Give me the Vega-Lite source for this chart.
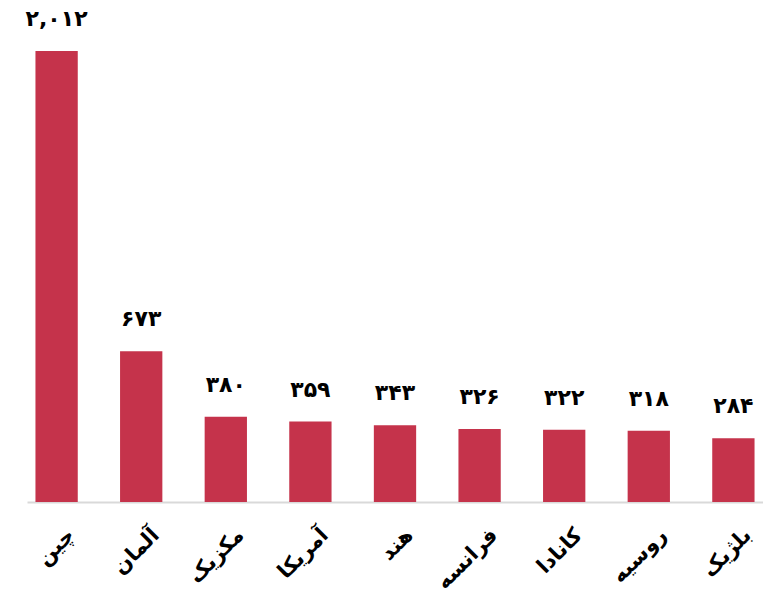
{
  "$schema": "https://vega.github.io/schema/vega-lite/v6.json",
  "width": 736,
  "height": 502,
  "autosize": {"type": "none"},
  "padding": {"left": 27, "top": 0, "right": 0, "bottom": 94},
  "config": {
    "view": {"stroke": null},
    "font": "DejaVu Sans",
    "locale": {
      "number": {
        "decimal": ".",
        "thousands": ",",
        "grouping": [3],
        "currency": ["", ""],
        "numerals": ["۰", "۱", "۲", "۳", "۴", "۵", "۶", "۷", "۸", "۹"]
      }
    }
  },
  "data": {
    "values": [
      {"country": "چین", "value": 2012},
      {"country": "آلمان", "value": 673},
      {"country": "مکزیک", "value": 380},
      {"country": "آمریکا", "value": 359},
      {"country": "هند", "value": 343},
      {"country": "فرانسه", "value": 326},
      {"country": "کانادا", "value": 322},
      {"country": "روسیه", "value": 318},
      {"country": "بلژیک", "value": 284}
    ]
  },
  "encoding": {
    "x": {
      "field": "country",
      "type": "nominal",
      "sort": null,
      "scale": {"paddingInner": 0.5, "paddingOuter": 0.1},
      "axis": {
        "title": null,
        "labelAngle": -45,
        "labelFont": "DejaVu Sans",
        "labelFontSize": 21,
        "labelFontWeight": "bold",
        "labelColor": "#000000",
        "labelPadding": 22,
        "labelOffset": 7,
        "ticks": false,
        "domainColor": "#d9d9d9",
        "domainWidth": 2
      }
    },
    "y": {
      "field": "value",
      "type": "quantitative",
      "scale": {"domain": [0, 2240], "nice": false},
      "axis": null
    }
  },
  "layer": [
    {"mark": {"type": "bar", "color": "#c5334b"}},
    {
      "mark": {
        "type": "text",
        "baseline": "alphabetic",
        "dy": -25,
        "fontSize": 22,
        "fontWeight": "bold",
        "color": "#000000"
      },
      "encoding": {
        "text": {"field": "value", "type": "quantitative", "format": ","}
      }
    }
  ]
}
